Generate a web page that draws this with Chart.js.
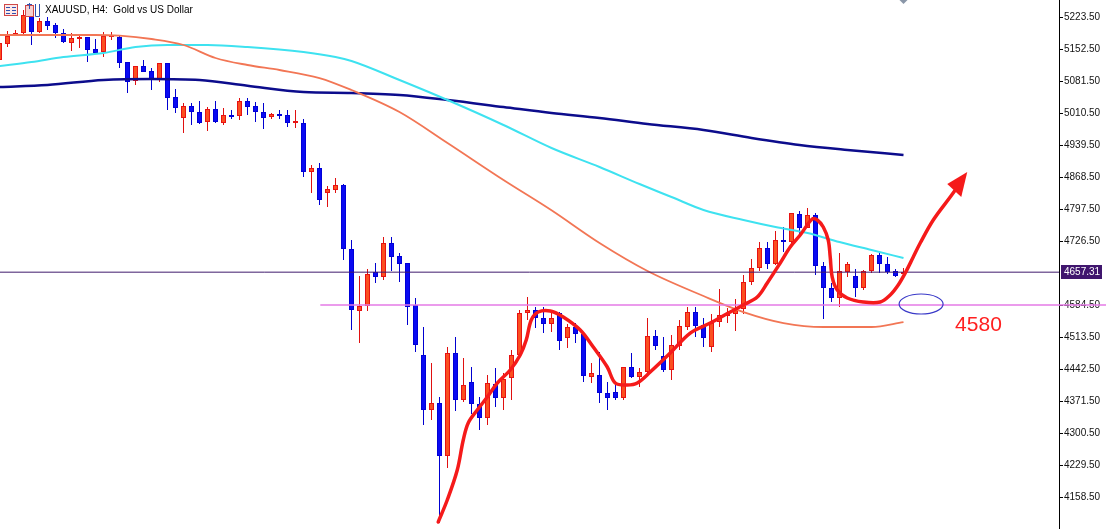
<!DOCTYPE html>
<html><head><meta charset="utf-8">
<style>html,body{margin:0;padding:0;background:#fff;overflow:hidden}#c{display:block}</style>
<script src="https://cdn.jsdelivr.net/npm/chart.js@4/dist/chart.umd.min.js"></script>
</head><body><canvas id="c" width="1106" height="529"></canvas>
<script>
const chartTitle = 'XAUUSD, H4:  Gold vs US Dollar';
const opens  = [5128.1,5163.6,5183.6,5188.0,5227.9,5190.2,5214.6,5205.7,5188.0,5165.8,5174.7,5179.1,5152.5,5145.8,5179.1,5179.1,5123.6,5081.5,5114.8,5103.7,5083.7,5121.4,5046.0,4999.4,5026.0,5012.7,4990.5,5019.4,4988.3,5006.0,5003.8,5037.1,5026.0,5012.7,5001.6,5008.3,5006.0,4988.3,4988.3,4879.6,4888.5,4833.0,4839.6,4850.7,4708.7,4571.2,4582.3,4657.7,4646.6,4722.0,4693.2,4677.7,4584.5,4473.5,4351.5,4367.0,4249.5,4477.9,4373.7,4413.6,4364.8,4333.8,4409.2,4378.1,4422.5,4473.5,4566.7,4573.4,4555.6,4542.3,4566.7,4511.2,4535.7,4520.1,4424.7,4429.2,4389.2,4391.4,4378.1,4446.9,4424.7,4435.8,4515.7,4471.3,4440.3,4493.5,4535.7,4568.9,4540.1,4491.3,4546.7,4560.1,4564.5,4575.6,4635.5,4666.6,4710.9,4675.4,4728.7,4724.2,4786.4,4755.3,4784.2,4671.0,4622.2,4600.0,4657.7,4648.8,4622.2,4659.9,4695.4,4675.4,4659.9,4653.3];
const highs  = [5172.5,5192.4,5194.7,5239.0,5245.7,5221.3,5223.5,5210.2,5196.9,5188.0,5181.3,5179.1,5174.7,5190.2,5190.2,5183.6,5123.6,5114.8,5128.1,5110.3,5121.4,5121.4,5063.7,5032.7,5032.7,5037.1,5023.8,5037.1,5021.6,5017.2,5043.8,5043.8,5034.9,5032.7,5010.5,5017.2,5017.2,5017.2,4997.2,4895.1,4899.6,4848.5,4866.3,4852.9,4728.7,4648.8,4664.3,4677.7,4735.4,4735.4,4699.9,4677.7,4600.0,4535.7,4455.8,4380.4,4491.3,4513.5,4466.9,4446.9,4380.4,4429.2,4444.7,4433.6,4484.6,4573.4,4602.2,4580.0,4580.0,4573.4,4568.9,4542.3,4544.5,4522.3,4455.8,4480.2,4413.6,4413.6,4446.9,4477.9,4444.7,4555.6,4529.0,4513.5,4517.9,4551.2,4580.0,4580.0,4555.6,4564.5,4619.9,4577.8,4597.8,4651.0,4686.5,4724.2,4724.2,4748.7,4757.5,4788.6,4793.0,4799.7,4788.6,4679.9,4633.3,4699.9,4679.9,4664.3,4662.1,4697.6,4699.9,4691.0,4664.3,4666.6];
const lows   = [5123.6,5156.9,5181.3,5183.6,5161.4,5188.0,5194.7,5176.9,5165.8,5148.1,5154.7,5123.6,5143.6,5134.7,5172.5,5110.3,5054.9,5072.6,5101.4,5061.5,5079.3,5017.2,5010.5,4966.1,4983.9,4986.1,4970.6,4988.3,4983.9,4997.2,4994.9,5006.0,4990.5,4975.0,4997.2,4997.2,4979.4,4977.2,4868.5,4833.0,4806.4,4801.9,4833.0,4684.3,4529.0,4500.1,4571.2,4633.3,4640.0,4659.9,4635.5,4540.1,4480.2,4318.2,4329.3,4100.8,4222.8,4349.3,4369.3,4342.6,4307.1,4318.2,4358.2,4351.5,4373.7,4469.1,4551.2,4533.4,4522.3,4524.6,4484.6,4489.0,4500.1,4413.6,4411.4,4367.0,4351.5,4373.7,4373.7,4422.5,4402.5,4431.4,4484.6,4435.8,4418.0,4484.6,4529.0,4513.5,4491.3,4480.2,4535.7,4544.5,4526.8,4564.5,4628.8,4659.9,4664.3,4673.2,4702.0,4722.0,4739.8,4755.3,4651.0,4553.4,4591.1,4580.0,4646.6,4602.2,4617.8,4655.5,4655.5,4653.3,4646.6,4648.8];
const closes = [5165.8,5181.3,5188.0,5227.9,5190.2,5214.6,5203.5,5188.0,5168.0,5176.9,5176.9,5150.3,5143.6,5181.3,5181.3,5121.4,5079.3,5114.8,5101.4,5083.7,5121.4,5043.8,5021.6,5026.0,5012.7,4988.3,5019.4,4990.5,5006.0,5001.6,5037.1,5023.8,5012.7,4999.4,5008.3,5003.8,4988.3,4990.5,4879.6,4888.5,4817.5,4841.9,4850.7,4708.7,4573.4,4582.3,4653.3,4646.6,4722.0,4691.0,4675.4,4580.0,4495.7,4351.5,4367.0,4249.5,4477.9,4373.7,4407.0,4364.8,4333.8,4411.4,4378.1,4420.3,4473.5,4566.7,4573.4,4555.6,4542.3,4555.6,4504.6,4535.7,4520.1,4426.9,4433.6,4389.2,4378.1,4378.1,4446.9,4424.7,4435.8,4515.7,4493.5,4440.3,4495.7,4537.9,4568.9,4537.9,4511.2,4544.5,4562.3,4564.5,4575.6,4635.5,4666.6,4710.9,4675.4,4728.7,4724.2,4788.6,4755.3,4784.2,4671.0,4622.2,4600.0,4659.9,4675.4,4622.2,4659.9,4695.4,4675.4,4657.7,4648.8,4657.31];

const maSlowIdx = [0,6,12,15,19,23,27,31,35,40,44,50,56,63,69,75,81,88,93,98,103,109,113];
const maSlow    = [5183.6,5183.6,5183.6,5182.0,5174.7,5161.4,5132.5,5117.0,5105.9,5088.1,5061.5,5012.7,4943.9,4861.8,4794.6,4722.0,4659.9,4604.4,4568.9,4544.5,4535.7,4535.7,4546.7];
const maMidIdx  = [0,4,8,13,17,21,26,31,38,42,44,50,56,63,69,75,80,84,88,93,97,101,105,109,113];
const maMid     = [5114.8,5123.6,5134.7,5143.6,5156.9,5161.4,5161.4,5156.9,5145.8,5134.7,5125.8,5083.7,5039.3,4983.9,4932.8,4890.7,4852.9,4824.1,4795.3,4773.1,4757.5,4744.2,4724.2,4706.5,4688.7];
const maLongIdx = [0,6,13,19,25,31,38,44,50,56,63,69,75,81,88,94,100,106,113];
const maLong    = [5068.2,5072.6,5083.7,5085.9,5083.7,5071.0,5057.1,5054.9,5050.4,5039.3,5023.8,5010.5,4999.4,4986.1,4972.8,4955.0,4939.5,4928.4,4917.3];

const yTicks = [5223.5,5152.5,5081.5,5010.5,4939.5,4868.5,4797.5,4726.5,4584.5,4513.5,4442.5,4371.5,4300.5,4229.5,4158.5];
const lastPrice = 4657.31;
const levelPrice = 4584.5;
const levelRange = [40.1, 138.4];
const levelText = '4580';
const levelTextPos = [119.45, 4526.8];
const ellipseCenter = [115.2, 4586.7];

const pathIdx   = [54.84,55.97,57.22,57.97,58.59,59.72,60.97,62.22,63.84,65.09,65.84,66.47,67.34,68.84,70.47,72.59,74.22,75.97,76.97,78.47,79.72,81.34,83.84,86.34,88.84,91.34,92.97,94.72,95.97,97.59,98.84,100.09,101.59,102.22,102.97,103.59,103.84,104.09,104.72,105.97,107.97,110.09,111.34,112.34,113.22,114.22,115.09,116.72,118.84,119.84];
const pathPrice = [4103.0,4151.8,4218.4,4285.0,4322.7,4351.5,4380.4,4411.4,4440.3,4473.5,4506.8,4551.2,4568.9,4571.2,4557.9,4529.0,4491.3,4446.9,4411.4,4407.0,4411.4,4435.8,4477.9,4522.3,4544.5,4568.9,4584.5,4602.2,4633.3,4677.7,4713.2,4739.8,4775.3,4773.1,4757.5,4728.7,4691.0,4646.6,4617.8,4600.0,4591.1,4591.1,4606.7,4628.8,4655.5,4691.0,4722.0,4773.1,4824.1,4848.5];
const arrowHeadIdx   = [120.97,118.47,120.22];
const arrowHeadPrice = [4879.6,4852.9,4824.1];

const xMin = 0.0625, xMax = 0.0625 + 1059/8, yMin = 4087.5, yMax = 5261.22;

const bull = closes.map((c,i)=> c >= opens[i]);
const pts = (xs, ys) => xs.map((v,i)=>({x:v, y:ys[i]}));

Chart.defaults.font.family = '"Liberation Sans", Arial, sans-serif';

const extras = {
  id: 'extras',
  afterDatasetsDraw(chart) {
    const {ctx} = chart; const x = chart.scales.x, y = chart.scales.y;
    ctx.save();
    ctx.fillStyle = '#f51a1a';
    ctx.beginPath();
    arrowHeadIdx.forEach((v,i)=>{ const px=x.getPixelForValue(v), py=y.getPixelForValue(arrowHeadPrice[i]); i?ctx.lineTo(px,py):ctx.moveTo(px,py); });
    ctx.closePath(); ctx.fill();
    ctx.strokeStyle = '#3a3ac8'; ctx.lineWidth = 1.2;
    ctx.beginPath();
    ctx.ellipse(x.getPixelForValue(ellipseCenter[0]), y.getPixelForValue(ellipseCenter[1]), 22, 10, 0, 0, Math.PI*2);
    ctx.stroke();
    ctx.fillStyle = '#ff2020'; ctx.font = '21px "Liberation Sans", Arial, sans-serif';
    ctx.textBaseline = 'alphabetic'; ctx.textAlign = 'left';
    ctx.fillText(levelText, x.getPixelForValue(levelTextPos[0]), y.getPixelForValue(levelTextPos[1]));
    const py = Math.round(y.getPixelForValue(lastPrice));
    ctx.fillStyle = '#40166e';
    ctx.fillRect(chart.chartArea.right + 2, py - 7, 41, 14);
    ctx.fillStyle = '#ffffff'; ctx.font = '10px "Liberation Sans", Arial, sans-serif';
    ctx.textBaseline = 'middle';
    ctx.fillText(lastPrice.toFixed(2), chart.chartArea.right + 5, py + 0.5);
    ctx.fillStyle = '#000'; ctx.font = '10px "Liberation Sans", Arial, sans-serif';
    ctx.textBaseline = 'middle';
    ctx.fillText(chartTitle, 45, 10);
    // icons
    ctx.lineWidth = 1;
    ctx.fillStyle = '#fde8e8'; ctx.fillRect(4, 4, 14, 12);
    ctx.strokeStyle = '#d04848'; ctx.strokeRect(4.5, 4.5, 13, 11);
    ctx.strokeStyle = '#3050b0';
    ctx.beginPath();
    for (let k=0;k<3;k++){ ctx.moveTo(6, 7.5+k*3); ctx.lineTo(10, 7.5+k*3); ctx.moveTo(12, 7.5+k*3); ctx.lineTo(16, 7.5+k*3); }
    ctx.stroke();
    ctx.fillStyle = '#f6d0d0'; ctx.fillRect(26, 6, 8, 11);
    ctx.strokeStyle = '#d04848'; ctx.strokeRect(25.5, 5.5, 8, 11);
    ctx.strokeStyle = '#3050b0';
    ctx.beginPath(); ctx.moveTo(35.5, 4); ctx.lineTo(35.5, 16.5); ctx.lineTo(39.5, 16.5); ctx.lineTo(39.5, 4); ctx.stroke();
    ctx.beginPath(); ctx.moveTo(29.5,3); ctx.lineTo(29.5,9); ctx.moveTo(27,4.5); ctx.lineTo(32,4.5); ctx.stroke();
    const sx = x.getPixelForValue(113);
    ctx.fillStyle = '#8a96a8';
    ctx.beginPath(); ctx.moveTo(sx-4, 0); ctx.lineTo(sx+4, 0); ctx.lineTo(sx, 4); ctx.closePath(); ctx.fill();
    ctx.restore();
  }
};

new Chart(document.getElementById('c'), {
  type: 'bar',
  data: {
    datasets: [
      { type:'bar', label:'wick', order:20, grouped:false, maxBarThickness:1, inflateAmount:0, borderWidth:0,
        data: opens.map((o,i)=>({x:i, y:[lows[i], highs[i]]})),
        backgroundColor: bull.map(b=> b ? '#e01010' : '#0000d0') },
      { type:'bar', label:'body', order:19, grouped:false, maxBarThickness:5, inflateAmount:0, borderWidth:1, borderSkipped:false, minBarLength:2,
        data: opens.map((o,i)=>({x:i, y:[o, closes[i]]})),
        backgroundColor: bull.map(b=> b ? '#fb4f20' : '#0a0af2'),
        borderColor: bull.map(b=> b ? '#e81212' : '#0000d8') },
      { type:'line', label:'MA long', order:10, data: pts(maLongIdx, maLong), borderColor:'#0c0c8c', borderWidth:2.5, pointRadius:0, cubicInterpolationMode:'monotone', fill:false },
      { type:'line', label:'MA mid', order:9, data: pts(maMidIdx, maMid), borderColor:'#3ee2f0', borderWidth:2, pointRadius:0, cubicInterpolationMode:'monotone', fill:false },
      { type:'line', label:'MA slow', order:8, data: pts(maSlowIdx, maSlow), borderColor:'#f27655', borderWidth:1.8, pointRadius:0, cubicInterpolationMode:'monotone', fill:false },
      { type:'line', label:'last', order:5, data: pts([xMin, xMax], [lastPrice, lastPrice]), borderColor:'#3f1a6c', borderWidth:1, pointRadius:0, fill:false },
      { type:'line', label:'level', order:4, clip:false, data: pts(levelRange, [levelPrice, levelPrice]), borderColor:'#e57ae6', borderWidth:1.6, pointRadius:0, fill:false },
      { type:'line', label:'path', order:1, data: pts(pathIdx, pathPrice), borderColor:'#f51a1a', borderWidth:3.5, pointRadius:0, tension:0.35, borderCapStyle:'round', borderJoinStyle:'round', fill:false }
    ]
  },
  options: {
    responsive:false, animation:false, devicePixelRatio:1,
    layout:{ padding:0 },
    plugins:{ legend:{display:false}, tooltip:{enabled:false} },
    scales:{
      x:{ type:'linear', min:xMin, max:xMax, display:false, offset:false },
      y:{ type:'linear', position:'right', min:yMin, max:yMax,
          afterBuildTicks: s => { s.ticks = yTicks.map(v=>({value:v})); },
          afterFit: s => { s.width = 47; s.paddingTop = 0; s.paddingBottom = 0; },
          ticks:{ autoSkip:false, color:'#111', padding:1, font:{size:10}, callback: v => Number(v).toFixed(2) },
          grid:{ drawOnChartArea:false, drawTicks:true, tickLength:4, color:'#000' },
          border:{ display:true, color:'#000', width:1 } }
    }
  },
  plugins:[extras]
});
</script>
</body></html>
